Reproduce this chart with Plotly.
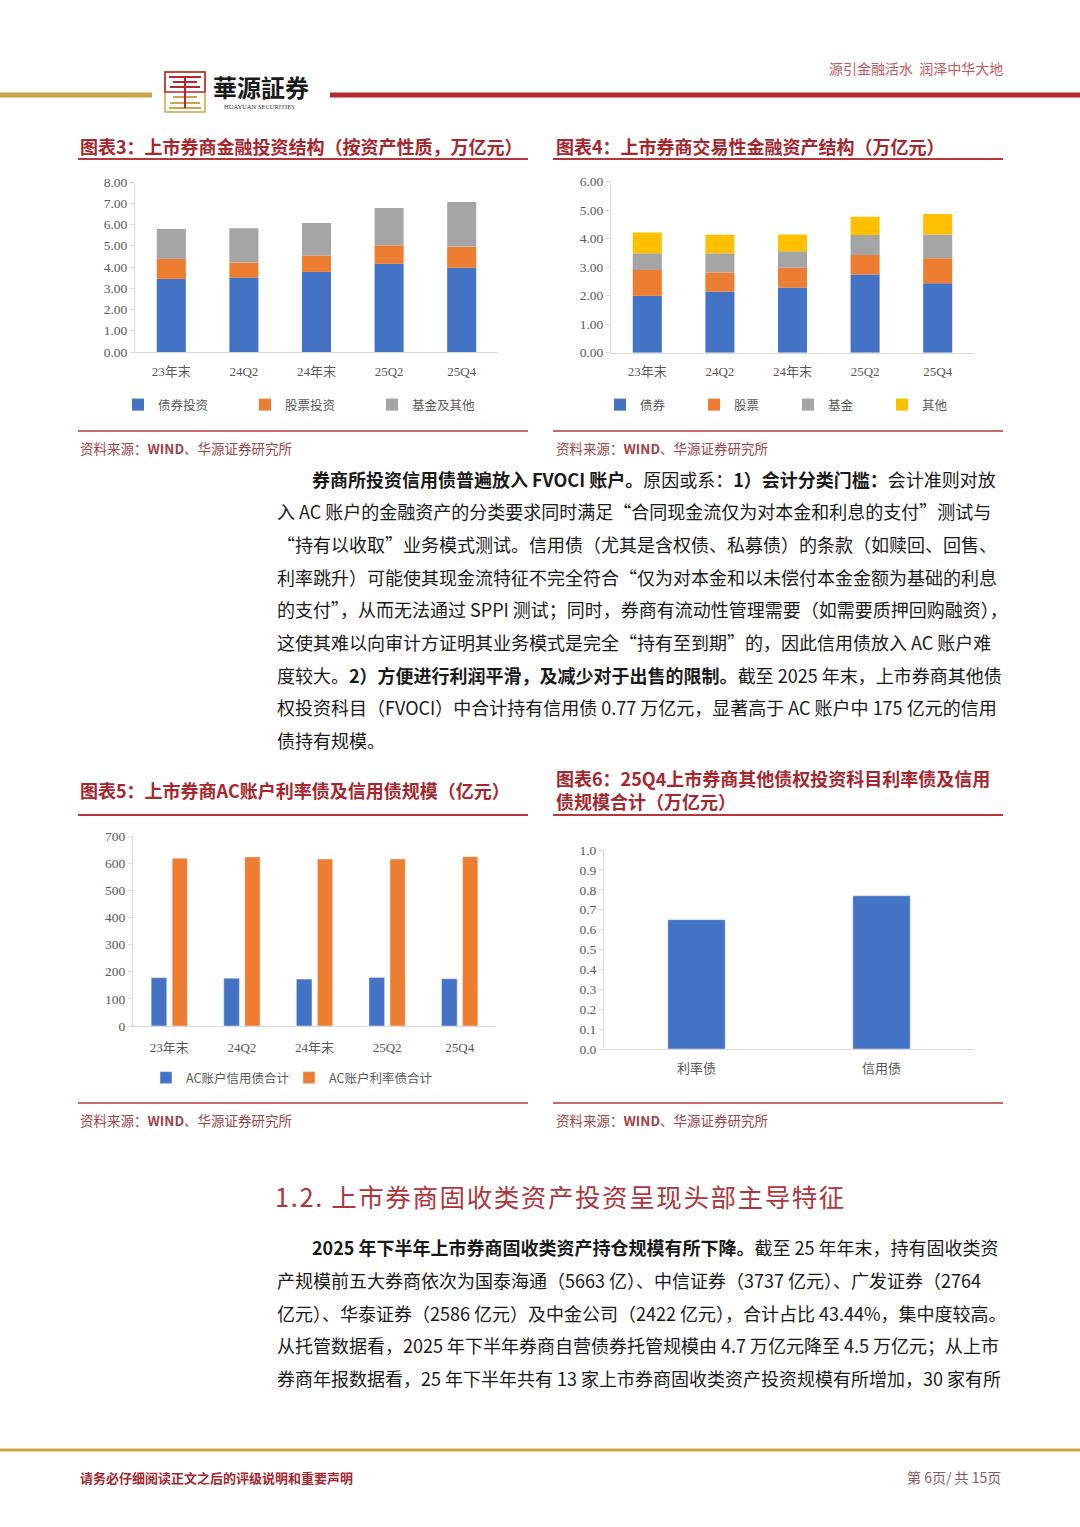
import plotly.graph_objects as go
import numpy as np

W, H = 1080, 1527


def px(x):
    return x / W


def py(y):
    return 1 - y / H


# ---------------- data ----------------
categories = ["23年末", "24Q2", "24年末", "25Q2", "25Q4"]

# 图表3 (万亿元)
c3_names = ["债券投资", "股票投资", "基金及其他"]
c3_bond = [3.44, 3.50, 3.77, 4.15, 3.96]
c3_stock = [0.94, 0.71, 0.77, 0.87, 1.00]
c3_fund_other = [1.41, 1.61, 1.53, 1.76, 2.10]

# 图表4 (万亿元)
c4_names = ["债券", "股票", "基金", "其他"]
c4_bond = [2.00, 2.15, 2.29, 2.74, 2.44]
c4_stock = [0.90, 0.66, 0.69, 0.69, 0.87]
c4_fund = [0.59, 0.68, 0.58, 0.70, 0.84]
c4_other = [0.73, 0.65, 0.59, 0.64, 0.72]

# 图表5 (亿元)
c5_names = ["AC账户信用债合计", "AC账户利率债合计"]
c5_credit = [178, 176, 173, 179, 174]
c5_rate = [618, 623, 615, 615, 624]

# 图表6 (万亿元)
c6_cats = ["利率债", "信用债"]
c6_vals = [0.65, 0.77]

BLUE, ORANGE, GRAY, YELLOW = "#4472C4", "#ED7D31", "#A5A5A5", "#FFC000"
SERIES_COLORS = [BLUE, ORANGE, GRAY, YELLOW]

TICK_FONT = dict(family="Liberation Serif, Noto Sans CJK SC", size=13.5, color="#595959")
CAT_FONT = dict(family="Liberation Serif, Noto Sans CJK SC", size=13, color="#595959")
LEG_FONT = dict(family="Noto Sans CJK SC, Liberation Serif", size=12.5, color="#595959")
AXC = "#d9d9d9"

fig = go.Figure()


def add_stack(series, names, xa, ya, leg, width):
    base = np.zeros(len(categories))
    for vals, name, col in zip(series, names, SERIES_COLORS):
        v = np.array(vals, dtype=float)
        fig.add_trace(go.Bar(x=categories, y=v, base=base.copy(), name=name,
                             marker=dict(color=col, line=dict(width=0)),
                             width=width, xaxis=xa, yaxis=ya, legend=leg,
                             hoverinfo="skip"))
        base = base + v


add_stack([c3_bond, c3_stock, c3_fund_other], c3_names, "x", "y", "legend", 0.4)
add_stack([c4_bond, c4_stock, c4_fund, c4_other], c4_names, "x2", "y2", "legend2", 0.4)

fig.add_trace(go.Bar(x=categories, y=c5_credit, name=c5_names[0], marker=dict(color=BLUE),
                     width=0.215, offset=-0.25, xaxis="x3", yaxis="y3", legend="legend3",
                     hoverinfo="skip"))
fig.add_trace(go.Bar(x=categories, y=c5_rate, name=c5_names[1], marker=dict(color=ORANGE),
                     width=0.21, offset=0.04, xaxis="x3", yaxis="y3", legend="legend3",
                     hoverinfo="skip"))
fig.add_trace(go.Bar(x=c6_cats, y=c6_vals, name="规模", marker=dict(color=BLUE),
                     width=0.31, xaxis="x4", yaxis="y4", showlegend=False,
                     hoverinfo="skip"))


def xax(x0, x1, anchor, n, standoff):
    return dict(domain=[px(x0), px(x1)], anchor=anchor, type="category",
                range=[-0.5, n - 0.5], showline=True, linecolor=AXC, linewidth=1,
                ticks="", tickfont=CAT_FONT, showgrid=False, zeroline=False,
                ticklabelstandoff=standoff, fixedrange=True, automargin=False)


def yax(y0, y1, anchor, rng, dtick, fmt):
    return dict(domain=[py(y0), py(y1)], anchor=anchor, range=rng, dtick=dtick,
                tickformat=fmt, showline=True, linecolor=AXC, linewidth=1,
                ticks="outside", ticklen=4, tickcolor=AXC, tickfont=TICK_FONT,
                showgrid=False, zeroline=False, fixedrange=True, automargin=False)


layout = dict(
    width=W, height=H, margin=dict(l=0, r=0, t=0, b=0, autoexpand=False),
    paper_bgcolor="white", plot_bgcolor="white",
    barmode="overlay",
    font=dict(family="Noto Sans CJK SC", color="#222"),
    xaxis=xax(135, 498, "y", 5, 7),
    yaxis=yax(352, 182, "x", [0, 8], 1, ".2f"),
    xaxis2=xax(611, 974, "y2", 5, 7),
    yaxis2=yax(352.7, 181.7, "x2", [0, 6], 1, ".2f"),
    xaxis3=xax(133, 496, "y3", 5, 9),
    yaxis3=yax(1026, 836, "x3", [0, 700], 100, "d"),
    xaxis4=xax(604, 974, "y4", 2, 7),
    yaxis4=yax(1049, 850, "x4", [0, 1.0], 0.1, ".1f"),
)


def leg(x, y, ew):
    return dict(x=px(x), y=py(y), xanchor="left", yanchor="middle", orientation="h",
                entrywidth=ew, entrywidthmode="pixels", font=LEG_FONT,
                bgcolor="rgba(0,0,0,0)", traceorder="normal", itemclick=False,
                itemdoubleclick=False, tracegroupgap=0)


layout["legend"] = leg(118, 405, 82)
layout["legend2"] = leg(600, 405, 49)
layout["legend3"] = leg(146, 1078, 98)
fig.update_layout(**layout)

# ---------------- page decorations ----------------
shapes = []
annotations = []


def hline(x0, x1, y, color, width):
    shapes.append(dict(type="line", xref="paper", yref="paper", x0=px(x0), x1=px(x1),
                       y0=py(y), y1=py(y), line=dict(color=color, width=width)))


def vline(x, y0, y1, color, width):
    shapes.append(dict(type="line", xref="paper", yref="paper", x0=px(x), x1=px(x),
                       y0=py(y0), y1=py(y1), line=dict(color=color, width=width)))


def txt(x, y, text, size, color="#1a1a1a", xanchor="left", family="Noto Sans CJK SC"):
    annotations.append(dict(x=px(x), y=py(y), xref="paper", yref="paper", text=text,
                            showarrow=False, xanchor=xanchor, yanchor="middle",
                            font=dict(size=size, color=color, family=family), align="left"))


RED = "#b3272d"
GOLD = "#c9a64a"
TITLE_RED = "#a8262d"
SRC_RED = "#a0454a"
TSIZE = 18

# header
hline(0, 152, 95, GOLD, 5)
hline(330, 1080, 95, RED, 5)
shapes.append(dict(type="rect", xref="paper", yref="paper", x0=px(165), x1=px(205),
                   y0=py(112), y1=py(72), line=dict(color=GOLD, width=1.5)))
shapes.append(dict(type="rect", xref="paper", yref="paper", x0=px(165), x1=px(205),
                   y0=py(92), y1=py(72), line=dict(color=RED, width=1.5)))
for yy, a, b in [(77, 169, 201), (82, 173, 197), (87, 170, 200)]:
    hline(a, b, yy, RED, 2)
for yy, a, b in [(97, 173, 197), (103, 170, 200), (108, 169, 201)]:
    hline(a, b, yy, GOLD, 2)
vline(185, 77, 108, RED, 2)
txt(211, 87, "<b>華源証券</b>", 24, "#1a1a1a", family="Noto Sans CJK SC")
txt(222, 106, "HUAYUAN SECURITIES", 6.5, "#333", family="Liberation Serif")
txt(1005, 68, "源引金融活水  润泽中华大地", 14, "#c8565a", xanchor="right")

# chart titles
txt(78, 146, "<b>图表3：上市券商金融投资结构（按资产性质，万亿元）</b>", TSIZE, TITLE_RED)
txt(554, 146, "<b>图表4：上市券商交易性金融资产结构（万亿元）</b>", TSIZE, TITLE_RED)
hline(78, 528, 159, "#b8373c", 2)
hline(553, 1003, 159, "#b8373c", 2)

txt(78, 790, "<b>图表5：上市券商AC账户利率债及信用债规模（亿元）</b>", TSIZE, TITLE_RED)
txt(554, 778, "<b>图表6：25Q4上市券商其他债权投资科目利率债及信用</b>", TSIZE, TITLE_RED)
txt(554, 801, "<b>债规模合计（万亿元）</b>", TSIZE, TITLE_RED)
hline(78, 528, 815, "#b8373c", 2)
hline(553, 1003, 815, "#b8373c", 2)

# source lines
for y_line, y_txt in [(431, 448), (1103, 1120)]:
    hline(78, 528, y_line, "#b8373c", 1.5)
    hline(553, 1003, y_line, "#b8373c", 1.5)
    txt(78, y_txt, "资料来源：<b>WIND</b>、华源证券研究所", 13.5, SRC_RED)
    txt(554, y_txt, "资料来源：<b>WIND</b>、华源证券研究所", 13.5, SRC_RED)

# body paragraph 1
BODY = 18
p1 = [
    (310, 479, "<b>券商所投资信用债普遍放入 FVOCI 账户。</b>原因或系：<b>1）会计分类门槛：</b>会计准则对放"),
    (275, 511, "入 AC 账户的金融资产的分类要求同时满足“合同现金流仅为对本金和利息的支付”测试与"),
    (275, 544, "“持有以收取”业务模式测试。信用债（尤其是含权债、私募债）的条款（如赎回、回售、"),
    (275, 577, "利率跳升）可能使其现金流特征不完全符合“仅为对本金和以未偿付本金金额为基础的利息"),
    (275, 609, "的支付”，从而无法通过 SPPI 测试；同时，券商有流动性管理需要（如需要质押回购融资），"),
    (275, 642, "这使其难以向审计方证明其业务模式是完全“持有至到期”的，因此信用债放入 AC 账户难"),
    (275, 675, "度较大。<b>2）方便进行利润平滑，及减少对于出售的限制。</b>截至 2025 年末，上市券商其他债"),
    (275, 707, "权投资科目（FVOCI）中合计持有信用债 0.77 万亿元，显著高于 AC 账户中 175 亿元的信用"),
    (275, 740, "债持有规模。"),
]
for x, y, t in p1:
    txt(x, y, t, BODY)

# section heading (slightly letter-spaced like the original)
heading = "1.2. 上市券商固收类资产投资呈现头部主导特征"
txt(273, 1195, "\u200a".join(heading), 25.5, "#b0353b")

p2 = [
    (310, 1247, "<b>2025 年下半年上市券商固收类资产持仓规模有所下降。</b>截至 25 年年末，持有固收类资"),
    (275, 1280, "产规模前五大券商依次为国泰海通（5663 亿）、中信证券（3737 亿元）、广发证券（2764"),
    (275, 1313, "亿元）、华泰证券（2586 亿元）及中金公司（2422 亿元），合计占比 43.44%，集中度较高。"),
    (275, 1345, "从托管数据看，2025 年下半年券商自营债券托管规模由 4.7 万亿元降至 4.5 万亿元；从上市"),
    (275, 1378, "券商年报数据看，25 年下半年共有 13 家上市券商固收类资产投资规模有所增加，30 家有所"),
]
for x, y, t in p2:
    txt(x, y, t, BODY)

# footer
hline(0, 1080, 1450, GOLD, 3)
txt(78, 1477, "<b>请务必仔细阅读正文之后的评级说明和重要声明</b>", 13, TITLE_RED)
txt(1003, 1477, "第 6页/ 共 15页", 14, "#8c5a5c", xanchor="right")

fig.update_layout(shapes=shapes, annotations=annotations)
fig.write_html("out.html", config=dict(displayModeBar=False),
               post_script="document.body.style.margin='0';document.body.style.overflow='hidden';")
